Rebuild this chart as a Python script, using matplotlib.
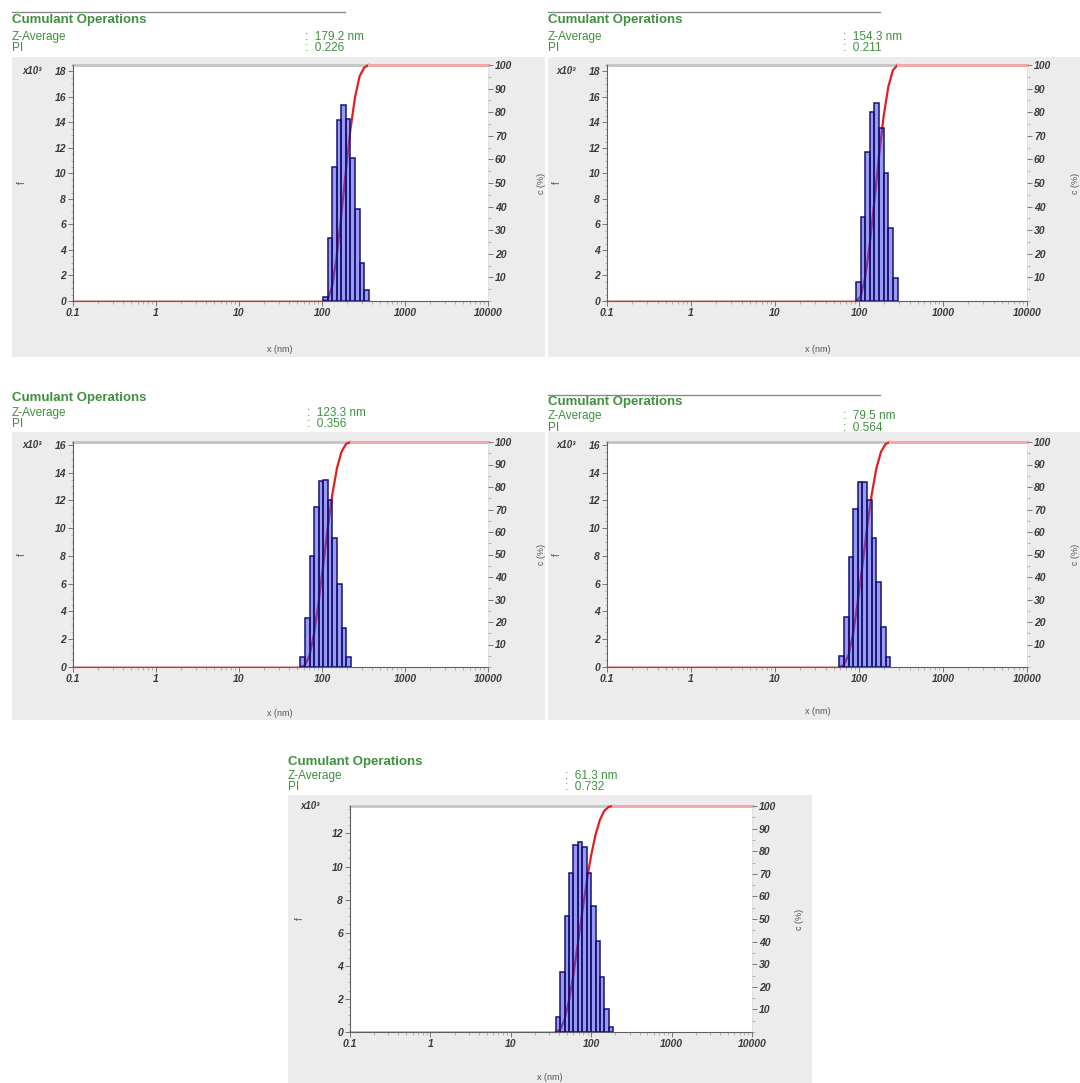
import numpy as np
import matplotlib
matplotlib.use('Agg')
import matplotlib.pyplot as plt
from matplotlib.patches import Rectangle
from matplotlib.lines import Line2D
from matplotlib.ticker import LogLocator, NullFormatter, FixedLocator, MultipleLocator

# ---------------- data ----------------
z_average = ["179.2 nm", "154.3 nm", "123.3 nm", "79.5 nm", "61.3 nm"]
pdi = ["0.226", "0.211", "0.356", "0.564", "0.732"]

sizes1 = [109.8, 124.6, 141.4, 160.5, 182.2, 206.8, 234.7, 266.4, 302.4, 343.2]
heights1 = [0.3, 4.9, 10.5, 14.2, 15.4, 14.3, 11.2, 7.2, 3.0, 0.9]

sizes2 = [98.1, 111.3, 126.3, 143.4, 162.7, 184.7, 209.6, 237.9, 270.1]
heights2 = [1.5, 6.6, 11.7, 14.8, 15.5, 13.6, 10.0, 5.7, 1.8]

sizes3 = [58.6, 66.5, 75.4, 85.6, 97.2, 110.3, 125.2, 142.1, 161.3, 183.1, 207.8]
heights3 = [0.7, 3.5, 8.0, 11.5, 13.4, 13.5, 12.0, 9.3, 6.0, 2.8, 0.7]

sizes4 = [62.2, 70.6, 80.1, 90.9, 103.2, 117.1, 132.9, 150.8, 171.2, 194.3, 220.5]
heights4 = [0.8, 3.6, 7.9, 11.4, 13.3, 13.3, 12.0, 9.3, 6.1, 2.9, 0.7]

sizes5 = [38.6, 43.8, 49.7, 56.4, 64.0, 72.7, 82.5, 93.7, 106.3, 120.6, 136.9, 155.4, 176.4]
heights5 = [0.9, 3.6, 7.0, 9.6, 11.3, 11.5, 11.2, 9.6, 7.6, 5.5, 3.3, 1.4, 0.3]

y_max = [18.5, 18.5, 16.2, 16.2, 13.66]
y_tick_top = [18, 18, 16, 16, 12]
x_ticks = [0.1, 1, 10, 100, 1000, 10000]
x_tick_labels = ["0.1", "1", "10", "100", "1000", "10000"]
bin_ratio_decades = 0.055  # log10 width of one size class

# ---------------- layout (pixels) ----------------
W, H = 1080, 1083
fig = plt.figure(figsize=(W / 100, H / 100), dpi=100)
fig.patch.set_facecolor('white')

FONT = ['Liberation Sans', 'DejaVu Sans']
GREEN = '#3f8f3f'
TXT = '#3a3a3a'


def fx(x):
    return x / W


def fy(y):
    return 1 - y / H


layout = [
    dict(ax=(73, 65, 488, 301), grey=(12, 57, 545, 357), hx=12, ty=20, zy=37, py=48, vx=305,
         line=(12, 345, 12), xl=(280, 350), ll=22, rl=541),
    dict(ax=(607, 65, 1027, 301), grey=(548, 57, 1080, 357), hx=548, ty=20, zy=37, py=48, vx=843,
         line=(548, 880, 12), xl=(818, 350), ll=557, rl=1076),
    dict(ax=(73, 442, 488, 667), grey=(12, 432, 545, 720), hx=12, ty=398, zy=413, py=424, vx=307,
         line=None, xl=(280, 713), ll=22, rl=541),
    dict(ax=(607, 442, 1027, 667), grey=(548, 432, 1080, 720), hx=548, ty=402, zy=416, py=428, vx=843,
         line=(548, 880, 395), xl=(818, 712), ll=557, rl=1076),
    dict(ax=(350, 806, 752, 1032), grey=(288, 795, 812, 1083), hx=288, ty=762, zy=776, py=787, vx=565,
         line=None, xl=(550, 1077), ll=300, rl=800),
]

sizes_all = [sizes1, sizes2, sizes3, sizes4, sizes5]
heights_all = [heights1, heights2, heights3, heights4, heights5]

for i, L in enumerate(layout):
    # grey panel background
    gx0, gy0, gx1, gy1 = L['grey']
    fig.patches.append(Rectangle((fx(gx0), fy(gy1)), fx(gx1 - gx0), (gy1 - gy0) / H,
                                 transform=fig.transFigure, facecolor='#ececec',
                                 edgecolor='none', zorder=-10))
    # header
    if L['line'] is not None:
        x0, x1, yy = L['line']
        fig.add_artist(Line2D([fx(x0), fx(x1)], [fy(yy), fy(yy)], transform=fig.transFigure,
                              color='#8a8a8a', lw=1.0))
    fig.text(fx(L['hx']), fy(L['ty']), "Cumulant Operations", family=FONT, weight='bold',
             fontsize=9.5, color=GREEN, va='center', ha='left')
    fig.text(fx(L['hx']), fy(L['zy']), "Z-Average", family=FONT,
             fontsize=8.5, color=GREEN, va='center', ha='left')
    fig.text(fx(L['hx']), fy(L['py']), "PI", family=FONT,
             fontsize=8.5, color=GREEN, va='center', ha='left')
    fig.text(fx(L['vx']), fy(L['zy']), ":  " + z_average[i], family=FONT,
             fontsize=8.5, color=GREEN, va='center', ha='left')
    fig.text(fx(L['vx']), fy(L['py']), ":  " + pdi[i], family=FONT,
             fontsize=8.5, color=GREEN, va='center', ha='left')

    # axes
    l, t, r, b = L['ax']
    ax = fig.add_axes([fx(l), fy(b), (r - l) / W, (b - t) / H])
    ax.set_facecolor('white')
    ax.set_xscale('log')
    ax.set_xlim(0.1, 10000)
    ymax = y_max[i]
    ax.set_ylim(0, ymax)

    sizes = np.array(sizes_all[i])
    heights = np.array(heights_all[i])
    half = 10 ** (bin_ratio_decades / 2)
    lefts = sizes / half
    rights = sizes * half

    # cumulative (%) curve, scaled to left axis
    cum = np.cumsum(heights) / heights.sum() * 100
    cx = np.concatenate([[lefts[0]], rights])
    cy = np.concatenate([[0], cum])
    ax.plot(cx, cy / 100 * ymax, color='#e02020', lw=1.6, zorder=2, clip_on=False,
            solid_joinstyle='round')
    # flat tails of the cumulative curve (0 % before, 100 % after)
    ax.plot([0.1, lefts[0]], [0, 0], color='#e06060', lw=1.2, alpha=0.6, zorder=2,
            clip_on=False)
    ax.plot([rights[-1], 10000], [ymax, ymax], color='#f0a8a8', lw=2.2, zorder=2.5,
            clip_on=False)

    ax.bar(lefts, heights, width=rights - lefts, align='edge', facecolor='#4848f0',
           alpha=0.55, edgecolor='none', zorder=3)
    ax.bar(lefts, heights, width=rights - lefts, align='edge', facecolor='none',
           edgecolor='#14146e', lw=1.1, zorder=4)

    # spines
    for s in ['left', 'bottom']:
        ax.spines[s].set_color('#606060')
        ax.spines[s].set_linewidth(0.8)
    ax.spines['top'].set_color('#c4c4c4')
    ax.spines['top'].set_linewidth(2.0)
    ax.spines['top'].set_zorder(1)
    ax.spines['right'].set_color('#e0e0e0')
    ax.spines['right'].set_linewidth(0.6)

    # ticks
    ax.xaxis.set_major_locator(FixedLocator(x_ticks))
    ax.set_xticklabels(x_tick_labels)
    ax.xaxis.set_minor_locator(LogLocator(base=10, subs=np.arange(2, 10), numticks=20))
    ax.xaxis.set_minor_formatter(NullFormatter())
    ax.set_yticks(np.arange(0, y_tick_top[i] + 1, 2))
    ax.yaxis.set_minor_locator(MultipleLocator(0.5))
    ax.tick_params(axis='both', which='major', direction='out', length=3.5, width=0.7,
                   color='#777777', labelsize=7.5, labelcolor=TXT, pad=1.5)
    ax.tick_params(axis='both', which='minor', direction='out', length=1.8, width=0.5,
                   color='#999999')
    for lab in ax.get_xticklabels() + ax.get_yticklabels():
        lab.set_fontstyle('italic')
        lab.set_fontweight('bold')
        lab.set_family(FONT)

    # right axis (percent)
    ax2 = ax.twinx()
    ax2.set_ylim(0, 100)
    ax2.set_yticks(np.arange(10, 101, 10))
    ax2.yaxis.set_minor_locator(MultipleLocator(5))
    ax2.tick_params(axis='y', which='major', direction='out', length=3.5, width=0.7,
                    color='#777777', labelsize=7.5, labelcolor=TXT, pad=1.5)
    ax2.tick_params(axis='y', which='minor', direction='out', length=1.8, width=0.5,
                    color='#999999')
    for lab in ax2.get_yticklabels():
        lab.set_fontstyle('italic')
        lab.set_fontweight('bold')
        lab.set_family(FONT)
    for s in ax2.spines.values():
        s.set_visible(False)

    # labels
    ax.text(-0.075, y_tick_top[i] if i < 4 else ymax, "x10³", transform=ax.get_yaxis_transform(),
            ha='right', va='center', fontsize=7, fontstyle='italic', fontweight='bold',
            family=FONT, color=TXT)
    cy_mid = (t + b) / 2
    fig.text(fx(L['ll']), fy(cy_mid), "f", rotation=90, fontsize=7, color='#555555',
             family=FONT, ha='center', va='center')
    fig.text(fx(L['rl']), fy(cy_mid), "c (%)", rotation=90, fontsize=6.5, color='#555555',
             family=FONT, ha='center', va='center')
    fig.text(fx(L['xl'][0]), fy(L['xl'][1]), "x (nm)", fontsize=6.5, color='#555555',
             family=FONT, ha='center', va='center')

fig.savefig('out.png', dpi=100, facecolor='white')
